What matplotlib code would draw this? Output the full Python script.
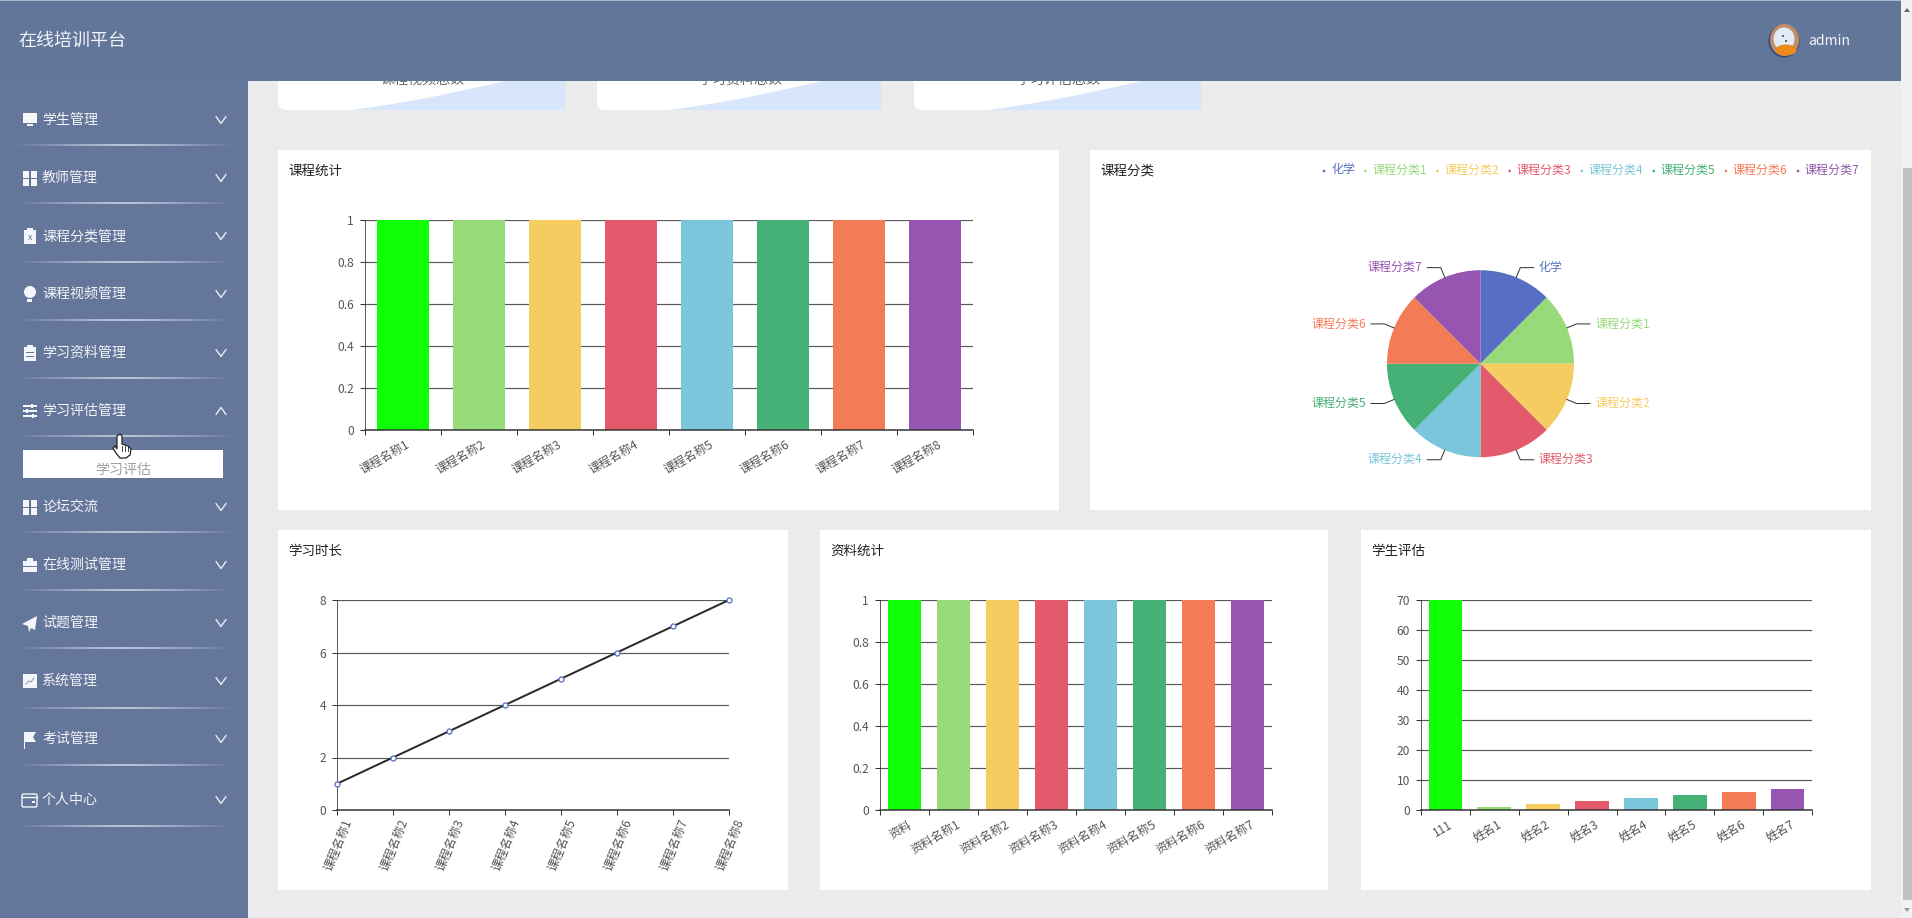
import matplotlib
matplotlib.use("Agg")
import numpy as np
import matplotlib.pyplot as plt
from matplotlib.patches import Rectangle, FancyBboxPatch, Polygon, Circle, Ellipse, PathPatch
from matplotlib.path import Path
from matplotlib.collections import LineCollection

plt.rcParams['font.family'] = ['Noto Sans CJK SC', 'DejaVu Sans']
plt.rcParams['axes.unicode_minus'] = False

W, H = 1912, 918
PX = 0.72  # one pixel in points at dpi 100

# ---------- data ----------
APP_TITLE = "在线培训平台"
USER = "admin"
MENU_ITEMS = ["学生管理", "教师管理", "课程分类管理", "课程视频管理", "学习资料管理", "学习评估管理",
              "论坛交流", "在线测试管理", "试题管理", "系统管理", "考试管理", "个人中心"]
SUB_ITEM = "学习评估"
CARD_LABELS = ["课程视频总数", "学习资料总数", "学习评估总数"]

COURSE_NAMES = ["课程名称1", "课程名称2", "课程名称3", "课程名称4", "课程名称5", "课程名称6", "课程名称7", "课程名称8"]
COURSE_VALUES = [1, 1, 1, 1, 1, 1, 1, 1]
CATEGORY_NAMES = ["化学", "课程分类1", "课程分类2", "课程分类3", "课程分类4", "课程分类5", "课程分类6", "课程分类7"]
CATEGORY_VALUES = [1, 1, 1, 1, 1, 1, 1, 1]
HOURS_VALUES = [1, 2, 3, 4, 5, 6, 7, 8]
MATERIAL_NAMES = ["资料", "资料名称1", "资料名称2", "资料名称3", "资料名称4", "资料名称5", "资料名称6", "资料名称7"]
MATERIAL_VALUES = [1, 1, 1, 1, 1, 1, 1, 1]
STUDENT_NAMES = ["111", "姓名1", "姓名2", "姓名3", "姓名4", "姓名5", "姓名6", "姓名7"]
STUDENT_VALUES = [70, 1, 2, 3, 4, 5, 6, 7]

BAR_COLORS = ["#10ff06", "#96da79", "#f4cc60", "#e25a6b", "#7ac6da", "#45b176", "#f37c56", "#9555b0"]
PIE_COLORS = ["#566fc2", "#96da79", "#f4cc60", "#e25a6b", "#7ac6da", "#45b176", "#f37c56", "#9555b0"]

# ---------- style ----------
BG = "#ebebeb"
NAV = "#64769a"
AXIS = "#333333"
GRID = "#5a5a5a"
TICK_TXT = "#555555"

fig = plt.figure(figsize=(W / 100, H / 100), dpi=100, facecolor=BG)


def canvas(z):
    a = fig.add_axes([0, 0, 1, 1], zorder=z)
    a.set_xlim(0, W)
    a.set_ylim(H, 0)
    a.axis("off")
    a.patch.set_alpha(0)
    return a


def px_axes(l, t, r, b):
    a = fig.add_axes([l / W, 1 - b / H, (r - l) / W, (b - t) / H], zorder=5)
    a.patch.set_alpha(0)
    return a


back = canvas(1)
top = canvas(10)


def fs(px):
    return px * PX


# ---------- white panels ----------
PANELS = [(278, 150, 1059, 510), (1090, 150, 1871, 510), (278, 530, 788, 890), (820, 530, 1328, 890), (1361, 530, 1871, 890)]
for l, t, r, b in PANELS:
    back.add_patch(Rectangle((l, t), r - l, b - t, fc="white", ec="none"))

TITLES = [("课程统计", 288, 171), ("课程分类", 1100, 171), ("学习时长", 288, 551), ("资料统计", 830, 551), ("学生评估", 1371, 551)]
for s, x, y in TITLES:
    back.text(x, y, s, fontsize=fs(13.5), color="#222222", va="center", ha="left", weight="medium")

# ---------- top stat cards (mostly scrolled away) ----------
for (l, r), s in zip([(278, 565), (597, 881), (914, 1201)], CARD_LABELS):
    clip = FancyBboxPatch((l + 6, 30), r - l - 12, 74, boxstyle="round,pad=0,rounding_size=6", mutation_aspect=1,
                          fc="white", ec="white", lw=8)
    back.add_patch(FancyBboxPatch((l + 6, 30), r - l - 12, 74, boxstyle="round,pad=6,rounding_size=8", fc="white", ec="none"))
    k = (r - l) / 287
    verts = [(l + 73 * k, 110), (l + 150 * k, 100), (l + 195 * k, 88), (l + 232 * k, 80), (r, 80), (r, 110), (l + 73 * k, 110)]
    codes = [Path.MOVETO, Path.CURVE4, Path.CURVE4, Path.CURVE4, Path.LINETO, Path.LINETO, Path.CLOSEPOLY]
    back.add_patch(PathPatch(Path(verts, codes), fc="#d7e6fb", ec="none"))
    back.text((l + r) / 2 + 1, 80, s, fontsize=fs(14), color="#666666", ha="center", va="center")


# ---------- chart helpers ----------
def style_axes(a, yticks, ylabels, l_w=0.8):
    for s in ("top", "right"):
        a.spines[s].set_visible(False)
    a.spines["left"].set_linewidth(l_w * PX)
    a.spines["left"].set_color(AXIS)
    a.spines["bottom"].set_linewidth(1.5 * PX)
    a.spines["bottom"].set_color(AXIS)
    a.set_yticks(yticks)
    a.set_yticklabels(ylabels, fontsize=fs(12), color=TICK_TXT)
    a.tick_params(axis="y", length=5 * PX, width=1 * PX, color=AXIS, pad=6 * PX)
    a.set_axisbelow(True)
    a.grid(axis="y", color=GRID, lw=1.2 * PX)
    a.spines["bottom"].set_zorder(6)


def bar_chart(rect, names, values, ymax, yticks, ylabels):
    a = px_axes(*rect)
    x = np.arange(len(names))
    a.bar(x, values, width=0.69, color=BAR_COLORS, zorder=3, linewidth=0)
    a.set_xlim(-0.5, len(names) - 0.5)
    a.set_ylim(0, ymax)
    style_axes(a, yticks, ylabels)
    a.set_xticks(np.arange(len(names) + 1) - 0.5)
    a.set_xticklabels([])
    a.tick_params(axis="x", length=5 * PX, width=1 * PX, color=AXIS)
    for i, n in enumerate(names):
        a.annotate(n, xy=(i, 0), xycoords=("data", "axes fraction"), xytext=(2, -6), textcoords="offset points",
                   rotation=30, rotation_mode="anchor", ha="right", va="top", fontsize=fs(12), color=TICK_TXT,
                   annotation_clip=False)
    return a


unit_ticks = [0, 0.2, 0.4, 0.6, 0.8, 1]
unit_labels = ["0", "0.2", "0.4", "0.6", "0.8", "1"]
bar_chart((365, 220, 973, 430), COURSE_NAMES, COURSE_VALUES, 1, unit_ticks, unit_labels)
bar_chart((880, 600, 1272, 810), MATERIAL_NAMES, MATERIAL_VALUES, 1, unit_ticks, unit_labels)
st = list(range(0, 71, 10))
bar_chart((1421, 600, 1812, 810), STUDENT_NAMES, STUDENT_VALUES, 70, st, [str(v) for v in st])

# line chart
ax = px_axes(337, 600, 729, 810)
xs = np.arange(len(COURSE_NAMES))
ax.plot(xs, HOURS_VALUES, color="#2b2b2b", lw=2 * PX, zorder=3, clip_on=False)
ax.plot(xs, HOURS_VALUES, ls="none", marker="o", ms=5 * PX, mfc="white", mec="#5470c6", mew=1.3 * PX, zorder=4, clip_on=False)
ax.set_xlim(0, len(COURSE_NAMES) - 1)
ax.set_ylim(0, 8)
style_axes(ax, [0, 2, 4, 6, 8], ["0", "2", "4", "6", "8"])
ax.set_xticks(xs)
ax.set_xticklabels([])
ax.tick_params(axis="x", length=5 * PX, width=1 * PX, color=AXIS)
for i, n in enumerate(COURSE_NAMES):
    ax.annotate(n, xy=(i, 0), xycoords=("data", "axes fraction"), xytext=(4, -5), textcoords="offset points",
                rotation=68, rotation_mode="anchor", ha="right", va="top", fontsize=fs(12), color=TICK_TXT,
                annotation_clip=False)

# pie chart
cx, cy, R = 1480.5, 363.7, 93.5
pa = px_axes(cx - R, cy - R, cx + R, cy + R)
pa.pie(CATEGORY_VALUES, colors=PIE_COLORS, startangle=90, counterclock=False, radius=1, wedgeprops={"linewidth": 0})
pa.set_xlim(-1, 1)
pa.set_ylim(-1, 1)
pa.set_aspect("auto")
pa.axis("off")
total = sum(CATEGORY_VALUES)
cum = 0
for name, v, c in zip(CATEGORY_NAMES, CATEGORY_VALUES, PIE_COLORS):
    mid = 2 * np.pi * (cum + v / 2) / total
    cum += v
    sx, cx_ = np.sin(mid), np.cos(mid)
    d = 1 if sx > 0 else -1
    bx, by = 1.112 * sx, 1.112 * cx_
    ex = bx + d * 0.144
    pa.plot([sx, bx, ex], [cx_, by, by], color="#333333", lw=1 * PX, clip_on=False, zorder=1)
    pa.text(ex + d * 0.055, by, name, color=c, fontsize=fs(12), ha="left" if d > 0 else "right", va="center", clip_on=False)

# pie legend
lx = 1324.0
for name, c in zip(CATEGORY_NAMES, PIE_COLORS):
    back.add_patch(Circle((lx, 171), 1.3, fc=c, ec="none"))
    back.text(lx + 7, 170, name, color=c, fontsize=fs(12), ha="left", va="center")
    lx += 41.4 if name == "化学" else 72.1

# ---------- header and sidebar ----------
top.add_patch(Rectangle((0, 0), 248, H, fc=NAV, ec="none"))
top.add_patch(Rectangle((0, 0), 1901, 81, fc="#62769a", ec="none"))
top.add_patch(Rectangle((0, 0), 1901, 1.2, fc="#aab6ca", ec="none"))
top.text(18, 41, APP_TITLE, color="#f2f4f8", fontsize=fs(18), va="center", ha="left")
top.text(1808, 41, USER, color="#f2f4f8", fontsize=fs(14), va="center", ha="left")

# avatar
top.add_patch(Ellipse((1784, 41), 31, 33, fc="#2f4a7a", ec="none"))
top.add_patch(Ellipse((1784.5, 40), 29, 32, fc="#c08e6a", ec="none"))
top.add_patch(Ellipse((1784, 39), 21, 23, fc="#e2ecf6", ec="none"))
top.add_patch(Ellipse((1786, 50), 21, 11, fc="#ee8a1c", ec="none"))
top.add_patch(Circle((1783, 36), 1, fc="#444444", ec="none"))
top.add_patch(Circle((1786, 41), 1, fc="#444444", ec="none"))

# scrollbar
top.add_patch(Rectangle((1901, 0), 11, H, fc="#f1f1f1", ec="none"))
top.add_patch(Rectangle((1903, 168), 9, 732, fc="#c1c1c1", ec="none"))
top.add_patch(Polygon([(1904, 12), (1907, 8), (1910, 12)], fc="#666666", ec="none"))
top.add_patch(Polygon([(1904, 908), (1907, 912), (1910, 908)], fc="#999999", ec="none"))

MENU_Y = [120, 178, 236, 294, 353, 411, 507, 565, 623, 681, 739, 800]
SEP_Y = [145, 203, 262, 320, 378, 436, 532, 590, 648, 708, 765, 826]
WHITE = "#f4f6fa"


def icon(i, y):
    x0, x1 = 23, 37
    a = top
    if i == 0:
        a.add_patch(Rectangle((x0, y - 7), 14, 10, fc=WHITE, ec="none"))
        a.add_patch(Rectangle((x0 + 4, y + 4), 6, 1.5, fc=WHITE, ec="none"))
    elif i in (1, 6):
        for dx in (0, 8):
            for dy in (-7, 1):
                a.add_patch(Rectangle((x0 + dx, y + dy), 6, 6.5, fc=WHITE, ec="none"))
    elif i == 2:
        a.add_patch(Rectangle((x0 + 1, y - 6), 12, 14, fc=WHITE, ec="none"))
        a.add_patch(Rectangle((x0 + 4, y - 8), 6, 2.5, fc=WHITE, ec="none"))
        a.text(x0 + 7, y + 2, "x", color="#64769a", fontsize=fs(9), ha="center", va="center")
    elif i == 3:
        a.add_patch(Circle((x0 + 7, y - 2), 6, fc=WHITE, ec="none"))
        a.add_patch(Rectangle((x0 + 4.5, y + 4.5), 5, 3, fc=WHITE, ec="none"))
    elif i == 4:
        a.add_patch(Rectangle((x0 + 1, y - 6), 12, 14, fc=WHITE, ec="none"))
        a.add_patch(Rectangle((x0 + 4, y - 8), 6, 2.5, fc=WHITE, ec="none"))
        for dy in (-1, 3):
            a.add_patch(Rectangle((x0 + 3, y + dy), 8, 1, fc=NAV, ec="none"))
    elif i == 5:
        for dy, k in ((-5, 8), (0, 3), (5, 9)):
            a.add_patch(Rectangle((x0, y + dy - 0.6), 14, 1.3, fc=WHITE, ec="none"))
            a.add_patch(Rectangle((x0 + k, y + dy - 2), 2, 4, fc=WHITE, ec="none"))
    elif i == 7:
        a.add_patch(Rectangle((x0, y - 4), 14, 11, fc=WHITE, ec="none"))
        a.add_patch(Rectangle((x0 + 4, y - 7), 6, 3, fc=WHITE, ec="none"))
        a.add_patch(Rectangle((x0, y + 1), 14, 0.8, fc=NAV, ec="none"))
    elif i == 8:
        a.add_patch(Polygon([(x0 - 1, y + 1), (x0 + 14, y - 7), (x0 + 12, y + 7), (x0 + 8, y + 5), (x0 + 6, y + 9), (x0 + 5, y + 3)], fc=WHITE, ec="none"))
    elif i == 9:
        a.add_patch(Rectangle((x0, y - 7), 14, 14, fc=WHITE, ec="none"))
        a.plot([x0 + 3, x0 + 6, x0 + 8, x0 + 11], [y + 3, y, y + 1, y - 3], color="#8293b3", lw=0.7)
    elif i == 10:
        a.add_patch(Rectangle((x0 + 1, y - 7), 1.5, 17, fc=WHITE, ec="none"))
        a.add_patch(Polygon([(x0 + 2, y - 7), (x0 + 13, y - 7), (x0 + 10, y - 2), (x0 + 13, y + 3), (x0 + 2, y + 3)], fc=WHITE, ec="none"))
    elif i == 11:
        a.add_patch(FancyBboxPatch((x0 - 1, y - 6), 15, 13, boxstyle="round,pad=0,rounding_size=1.5", fc="none", ec=WHITE, lw=1))
        a.plot([x0 - 1, x0 + 14], [y - 3, y - 3], color=WHITE, lw=1)
        a.add_patch(Rectangle((x0 + 9, y + 1), 3, 1.5, fc=WHITE, ec="none"))


for i, (name, y, sy) in enumerate(zip(MENU_ITEMS, MENU_Y, SEP_Y)):
    icon(i, y)
    top.text(42, y, name, color="#f2f4f8", fontsize=fs(14), ha="left", va="center")
    up = name == "学习评估管理"
    d = -3.5 if up else 3.5
    top.plot([216, 221, 226], [y - d, y + d, y - d], color="#dfe5ef", lw=1.1, solid_capstyle="round")
    # glowing separator
    xs_ = np.linspace(16, 231, 80)
    segs = [[(xs_[j], sy), (xs_[j + 1], sy)] for j in range(79)]
    al = np.clip(1 - np.abs((xs_[:-1] - 123) / 108) ** 1.3, 0, 1) * 0.85
    cols = [(0.9, 0.94, 1.0, float(v)) for v in al]
    top.add_collection(LineCollection(segs, colors=cols, linewidths=1.5 * PX))

top.add_patch(Rectangle((23, 450), 200, 28, fc="white", ec="none"))
top.text(123, 470, SUB_ITEM, color="#a0a0a0", fontsize=fs(14), ha="center", va="center")

# mouse pointer
hand = [(117, 436), (120, 434), (122, 436), (122, 444), (128, 446), (131, 449), (130, 455), (126, 458),
        (120, 458), (116, 453), (113, 448), (115, 446), (117, 449)]
top.add_patch(Polygon(hand, fc="white", ec="#222222", lw=0.9, zorder=20))
for xf in (122, 125, 128):
    top.plot([xf, xf], [446, 451], color="#222222", lw=0.6, zorder=21)

fig.savefig("out.png", dpi=100, facecolor=BG)
